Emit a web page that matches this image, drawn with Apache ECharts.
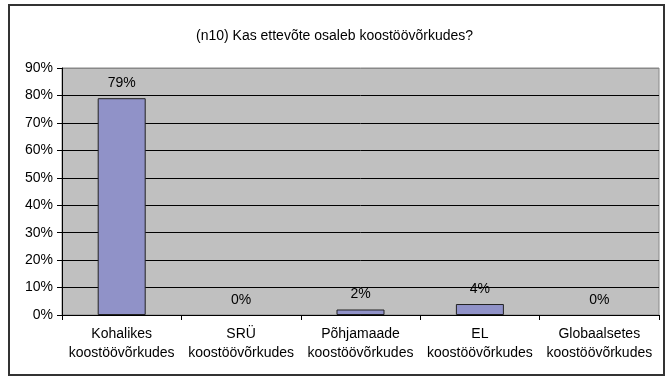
<!DOCTYPE html>
<html>
<head>
<meta charset="utf-8">
<script src="https://cdn.jsdelivr.net/npm/echarts@6/dist/echarts.min.js"></script>
<style>
html,body{margin:0;padding:0;background:#fff;}
#chart{width:669px;height:379px;}
#frame{position:absolute;left:8px;top:4px;width:657px;height:372px;border:2px solid #333;box-sizing:border-box;pointer-events:none;}
</style>
</head>
<body>
<div id="chart"></div>
<div id="frame"></div>
<script>
let categories = ['Kohalikes\nkoostöövõrkudes', 'SRÜ\nkoostöövõrkudes', 'Põhjamaade\nkoostöövõrkudes', 'EL\nkoostöövõrkudes', 'Globaalsetes\nkoostöövõrkudes'];
let values = [79, 0, 2, 4, 0];
let titleText = '(n10) Kas ettevõte osaleb koostöövõrkudes?';

let myChart = echarts.init(document.getElementById('chart'));
let font = 'Liberation Sans, Arial, sans-serif';
// split line colours, the top one is the grey plot border
let gridColors = ['#000', '#000', '#000', '#000', '#000', '#000', '#000', '#000', '#000', '#888'];

// zero bars: no outline, only the label
let barData = values.map(v => v === 0 ? {value: v, itemStyle: {borderWidth: 0}} : v);

let option = {
    animation: false,
    title: {
        text: titleText,
        left: 'center',
        top: 24,
        textStyle: {
            fontFamily: font,
            fontSize: 14,
            fontWeight: 'normal',
            color: '#000'
        }
    },
    grid: {
        left: 62,
        right: 10,
        top: 68,
        bottom: 64,
        show: true,
        backgroundColor: '#C0C0C0',
        borderColor: '#888',
        borderWidth: 1
    },
    xAxis: {
        type: 'category',
        data: categories,
        axisLine: {show: true, lineStyle: {color: '#000', width: 1}},
        axisTick: {show: true, length: 5, lineStyle: {color: '#000'}},
        axisLabel: {
            interval: 0,
            margin: 10,
            fontFamily: font,
            fontSize: 14,
            lineHeight: 19,
            color: '#000'
        }
    },
    yAxis: {
        type: 'value',
        min: 0,
        max: 90,
        interval: 10,
        axisLine: {show: true, lineStyle: {color: '#000', width: 1}},
        axisTick: {show: true, length: 5, lineStyle: {color: '#000'}},
        axisLabel: {
            margin: 9,
            fontFamily: font,
            fontSize: 14,
            color: '#000',
            formatter: '{value}%'
        },
        splitLine: {show: true, lineStyle: {color: gridColors, width: 1}}
    },
    series: [{
        type: 'bar',
        data: barData,
        barWidth: 48,
        itemStyle: {
            color: '#9092C8',
            borderColor: '#222',
            borderWidth: 1
        },
        label: {
            show: true,
            position: 'top',
            distance: 8,
            fontFamily: font,
            fontSize: 14,
            color: '#000',
            formatter: '{c}%'
        }
    }]
};
myChart.setOption(option);
</script>
</body>
</html>
